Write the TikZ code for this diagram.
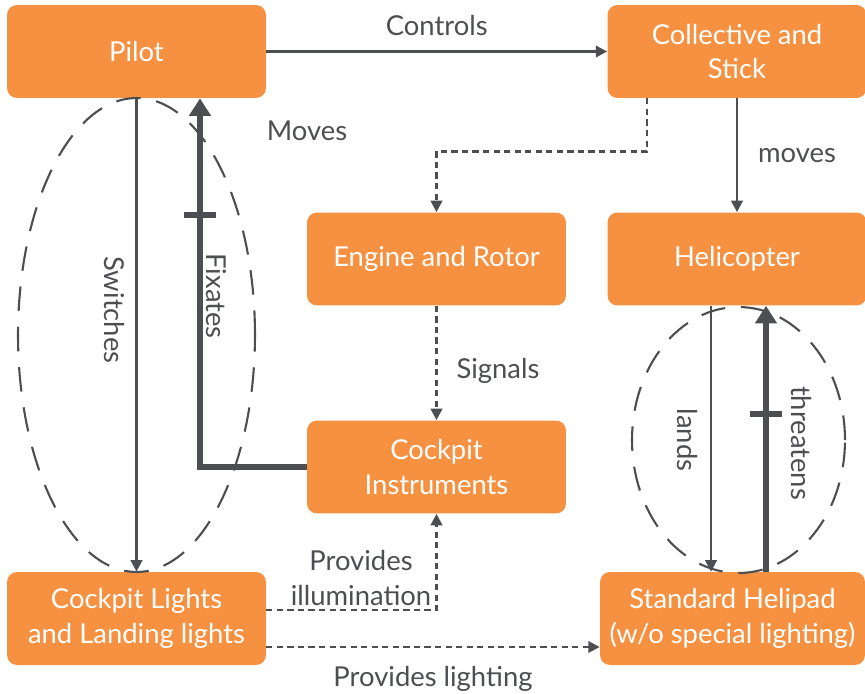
\documentclass[tikz,border=0pt]{standalone}
\usepackage{fontspec}
\setmainfont{Lato}
\usepackage{xcolor}
\usepackage{tikz}
\usetikzlibrary{arrows.meta}
\usetikzlibrary{positioning}
\definecolor{boxorange}{HTML}{F69142}
\definecolor{linegray}{HTML}{4D4E52}
\tikzset{>={Triangle[length=6.5pt,width=6.5pt]}}
\tikzset{
  block/.style={fill=boxorange, rounded corners=0.2cm, text=white, align=center,
    minimum width=5.18cm, minimum height=1.86cm, font=\fontsize{15.6}{19.8}\selectfont},
  lbl/.style={text=linegray, align=center, font=\fontsize{15.6}{19.8}\selectfont},
  thinline/.style={draw=linegray, line width=1.4pt},
  dotline/.style={draw=linegray, line width=1.4pt, dash pattern=on 3.5pt off 2.5pt},
  heavyline/.style={draw=linegray, line width=3pt, -{Triangle[length=10pt,width=12pt]}},
  tbar/.style={draw=linegray, line width=3pt},
  loopring/.style={draw=linegray, line width=1.2pt, dash pattern=on 14pt off 9pt}
}

\begin{document}
\begin{tikzpicture}[x=0.02cm, y=-0.02cm]
\useasboundingbox (0,0) rectangle (865,693);

\node[block] (pilot) at (136.5,51.5){Pilot};
\node[block] (col) at (737,51.5){Collective and\\Stick};
\node[block] (eng) at (436.5,259){Engine and Rotor};
\node[block] (heli) at (737,259){Helicopter};
\node[block] (instr) at (436.5,467){Cockpit\\Instruments};
\node[block] (lights) at (136.5,618.5){Cockpit Lights\\and Landing lights};
\node[block, minimum width=5.3cm] (pad) at (732.5,618.5){Standard Helipad\\(w/o special lighting)};

\draw[loopring] (136.5,335) ellipse [x radius=2.37cm, y radius=4.74cm];
\draw[loopring] (738.5,440) ellipse [x radius=2.13cm, y radius=2.66cm];

\draw[thinline, ->] (pilot) -- node[lbl, above=5pt, midway]{Controls} (col);
\draw[dotline, ->] ([xshift=-1.8cm]col.south) -- ++(0,53) -| (eng.north);
\node[lbl] (movesa) at (307,131){Moves};
\draw[thinline, ->] (col) -- node[lbl, right=8pt, midway]{moves} (heli);
\draw[dotline, ->] (eng) -- (instr);
\node[lbl] (signals) at (498,371){Signals};

\draw[thinline, ->] (pilot) -- (lights);
\node[lbl, rotate=-90] (switches) at (114,310){Switches};
\draw[heavyline] (instr.west) -| ([xshift=1.27cm]pilot.south);
\draw[tbar] (184,215) -- (216,215);
\node[lbl, rotate=-90] (fix) at (216,296){Fixates};

\draw[dotline, ->] ([yshift=0.17cm]lights.east) -| (instr.south);
\node[lbl] (illum) at (361,578){Provides\\illumination};
\draw[dotline, ->] ([yshift=-0.57cm]lights.east) -- node[lbl, midway, below=7pt]{Provides lighting} ([yshift=-0.57cm]pad.west);

\draw[thinline, ->] ([xshift=-0.52cm]heli.south) -- ([xshift=-0.52cm]heli.south |- pad.north);
\node[lbl, rotate=-90] (lands) at (687,440){lands};
\draw[heavyline] ([xshift=0.58cm]heli.south |- pad.north) -- ([xshift=0.58cm]heli.south);
\draw[tbar] (750,414) -- (782,414);
\node[lbl, rotate=-90] (threat) at (801,443){threatens};
\end{tikzpicture}
\end{document}
